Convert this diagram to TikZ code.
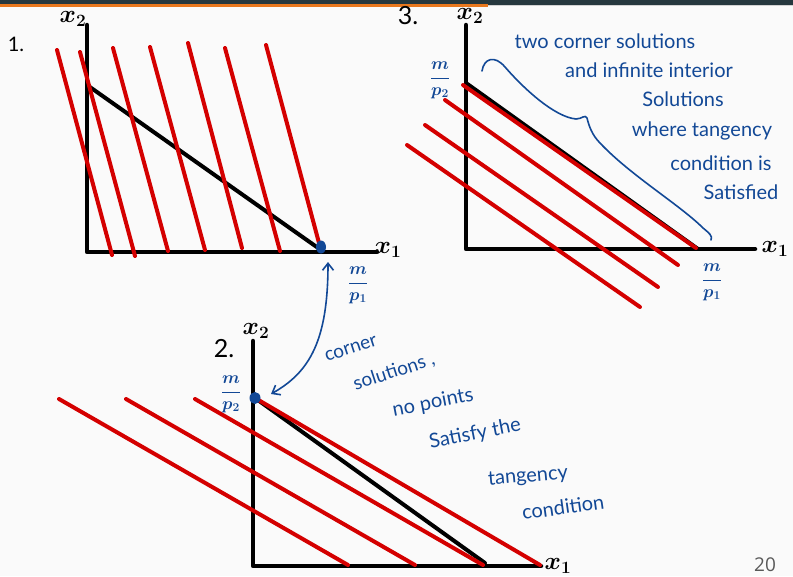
\documentclass[tikz,border=0pt]{standalone}
\usepackage{fontspec}
\setmainfont{Lato}
\newfontfamily\pagefont{Open Sans}
\usetikzlibrary{arrows.meta}
\definecolor{pen}{RGB}{18,72,150}
\definecolor{redpen}{RGB}{212,0,0}
\definecolor{topbar}{RGB}{38,56,62}
\definecolor{accent}{RGB}{232,120,30}
\definecolor{bg}{RGB}{250,250,250}
\begin{document}
\begin{tikzpicture}[x=1pt,y=-1pt,
  axis/.style={line width=4.5pt, line cap=round, line join=round},
  budget/.style={line width=4pt, line cap=round},
  indiff/.style={draw=redpen, line width=4pt, line cap=round},
  note/.style={text=pen, font=\fontsize{20}{20}\selectfont, inner sep=0pt},
  lbl/.style={font=\fontsize{24}{24}\selectfont\boldmath, inner sep=0pt},
  frac/.style={text=pen, font=\fontsize{17}{17}\selectfont\boldmath, inner sep=0pt},
  num/.style={font=\fontsize{22}{22}\selectfont, inner sep=0pt},
  dotmark/.style={fill=pen},
  penline/.style={draw=pen, line width=1.6pt, line cap=round, line join=round}]
\fill[bg] (0,0) rectangle (793,576);
\useasboundingbox (0,0) rectangle (793,576);
% top bar
\fill[topbar] (0,0) rectangle (793,4.5);
\fill[accent] (0,4) rectangle (488,6.5);
\fill[gray!35] (488,4.5) rectangle (793,6);

% ---------- panel 1 ----------
\coordinate (o1) at (87,252);
\draw[axis] (87,25) -- (o1) -- (377,252);
\draw[budget] (87,85) -- (321,250);
\draw[indiff] (57,50) -- (112,255);
\draw[indiff] (80,52) -- (135,256);
\draw[indiff] (113,48) -- (168,251);
\draw[indiff] (150,47) -- (205,250);
\draw[indiff] (188,43) -- (242,248);
\draw[indiff] (225,48) -- (280,251);
\draw[indiff] (266,45) -- (319,243);
\fill[dotmark] (321,247) ellipse (5pt and 6.5pt);
\node[num, font=\fontsize{20}{20}\selectfont] (one) at (16,44) {1.};
\node[lbl] (x2a) at (73,19) {$x_2$};
\node[lbl] (x1a) at (388,250) {$x_1$};
\node[frac] (mp1a) at (358,285) {$\displaystyle\frac{m}{p_1}$};

% ---------- panel 3 ----------
\draw[axis] (466,25) -- (466,249) -- (755,249);
\draw[budget] (466,83) -- (698,249);
\draw[indiff] (463,85) -- (696,248);
\draw[indiff] (445,100) -- (678,265);
\draw[indiff] (425,125) -- (658,287);
\draw[indiff] (407,145) -- (640,307);
\node[num, font=\fontsize{25}{25}\selectfont] (three) at (408,16) {3.};
\node[lbl] (x2c) at (470,16) {$x_2$};
\node[lbl] (x1c) at (775,249) {$x_1$};
\node[frac] (mp2c) at (440,80) {$\displaystyle\frac{m}{p_2}$};
\node[frac] (mp1c) at (712,282) {$\displaystyle\frac{m}{p_1}$};
% brace
\draw[penline] (482,71) .. controls (484,58) and (495,55) .. (505,67)
  .. controls (525,90) and (555,117) .. (576,119)
  .. controls (582,119) and (585,114) .. (587,118)
  .. controls (589,126) and (592,135) .. (600,143)
  .. controls (630,175) and (680,205) .. (703,228)
  .. controls (709,233) and (713,236) .. (711,240);
\node[note] (t1) at (605,41) {two corner solutions};
\node[note] (t2) at (649,70) {and infinite interior};
\node[note] (t3) at (683,99) {Solutions};
\node[note] (t4) at (702,131) {where tangency};
\node[note] (t5) at (721,163) {condition is};
\node[note] (t6) at (741,192) {Satisfied};

% ---------- panel 2 ----------
\draw[axis] (253,341) -- (253,566) -- (541,566);
\draw[budget] (255,398) -- (485,563);
\draw[indiff] (59,399) -- (348,565);
\draw[indiff] (126,399) -- (415,565);
\draw[indiff] (195,399) -- (483,565);
\draw[indiff] (255,398) -- (540,565);
\fill[dotmark] (255,398) ellipse (5.5pt and 6pt);
\coordinate (dot2) at (271,394);
\coordinate (dot1) at (328,262);
\node[num, font=\fontsize{25}{25}\selectfont] (two) at (224,349) {2.};
\node[lbl] (x2b) at (256,331) {$x_2$};
\node[lbl] (x1b) at (558,566) {$x_1$};
\node[frac] (mp2b) at (231,394) {$\displaystyle\frac{m}{p_2}$};
\draw[penline, {Straight Barb[length=7pt,width=11pt]}-{Straight Barb[length=7pt,width=11pt]}]
  (dot1) .. controls (328,340) and (310,372) .. (dot2);
\node[note, rotate=18, font=\fontsize{19}{19}\selectfont] (u1) at (351,349) {corner};
\node[note, rotate=18, font=\fontsize{19}{19}\selectfont] (u2) at (394,372) {solutions ,};
\node[note, rotate=11] (u3) at (433,403) {no points};
\node[note, rotate=11] (u4) at (475,434) {Satisfy the};
\node[note, rotate=5] (u5) at (528,477) {tangency};
\node[note, rotate=8] (u6) at (563,507) {condition};

% page number
\node[font=\pagefont\fontsize{19}{19}\selectfont, text=gray!70!black, inner sep=0pt] (pg) at (765,565) {20};
\end{tikzpicture}
\end{document}
